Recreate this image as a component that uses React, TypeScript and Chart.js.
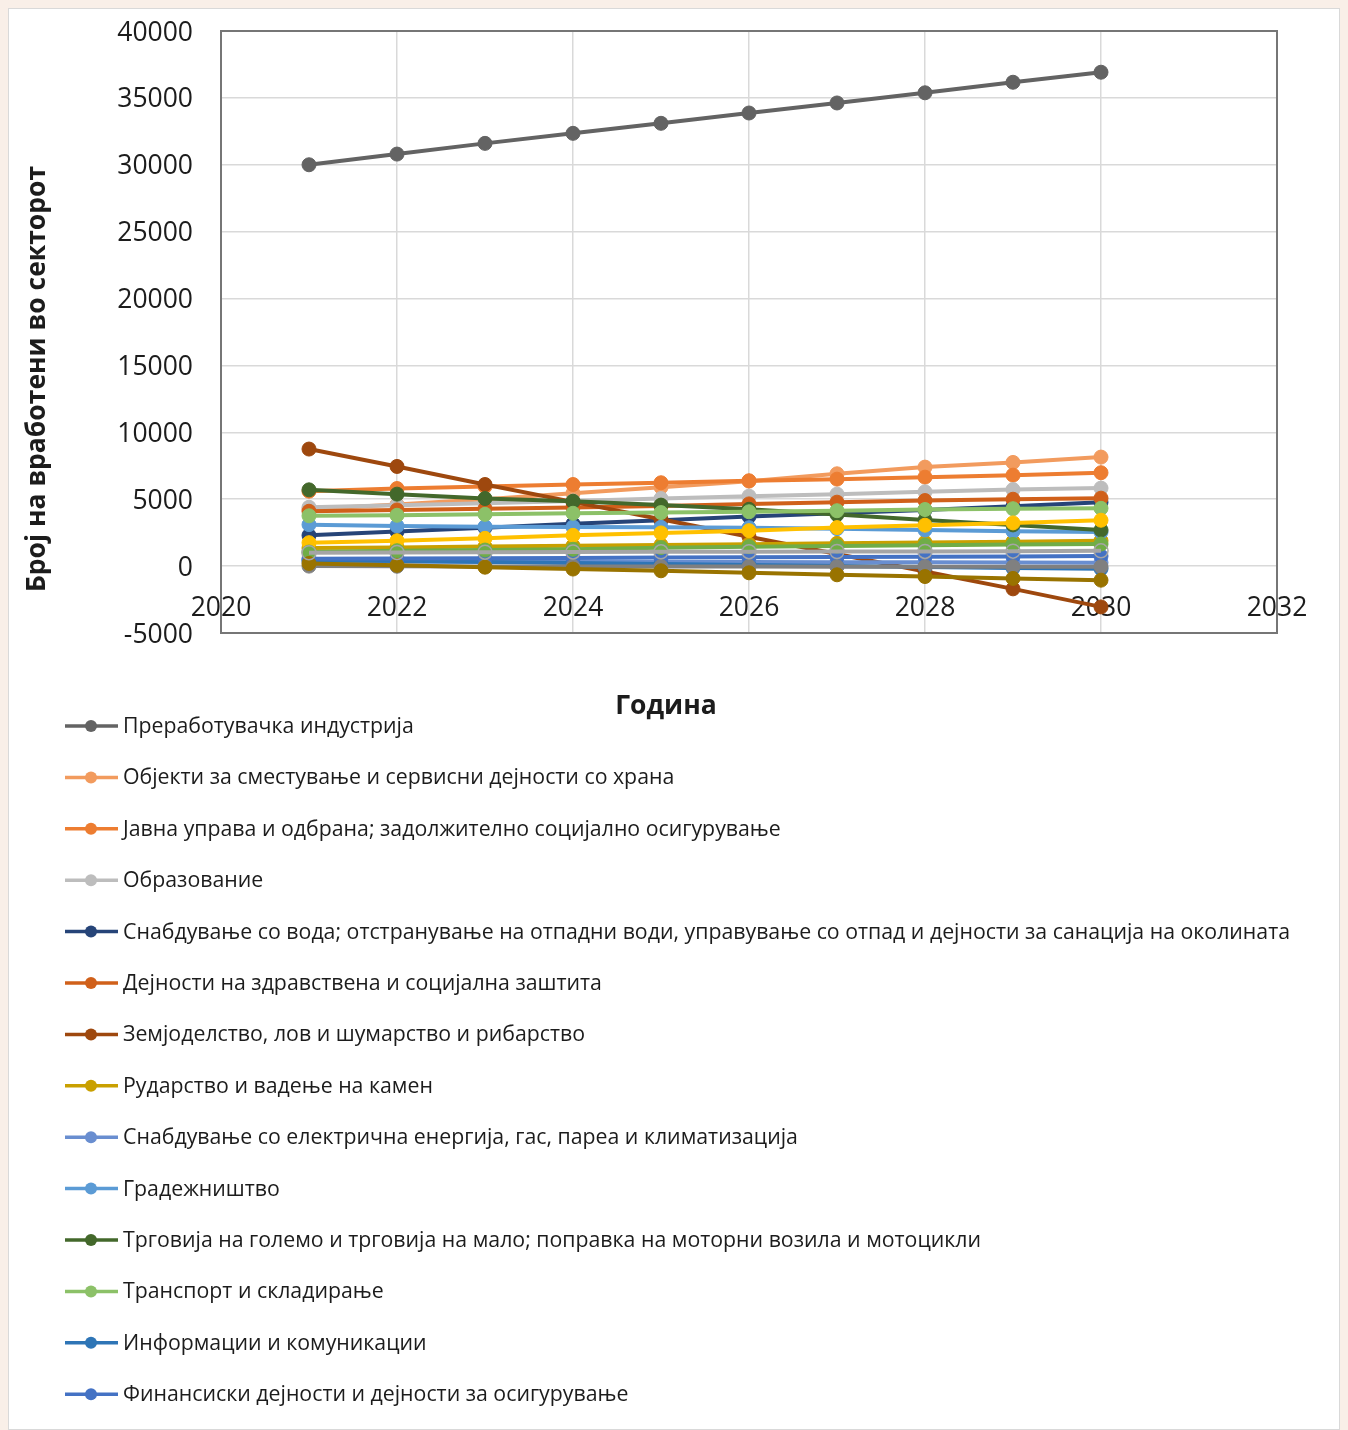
import React, { useEffect, useRef } from "react";
import { Chart, registerables } from "chart.js";

Chart.register(...registerables);

// ---------- data ----------
const years = [2021, 2022, 2023, 2024, 2025, 2026, 2027, 2028, 2029, 2030];

const seriesLabels = [
  "Преработувачка индустрија",
  "Објекти за сместување и сервисни дејности со храна",
  "Јавна управа и одбрана; задолжително социјално осигурување",
  "Образование",
  "Снабдување со вода; отстранување на отпадни води, управување со отпад и дејности за санација на околината",
  "Дејности на здравствена и социјална заштита",
  "Земјоделство, лов и шумарство и рибарство",
  "Рударство и вадење на камен",
  "Снабдување со електрична енергија, гас, пареа и климатизација",
  "Градежништво",
  "Трговија на големо и трговија на мало; поправка на моторни возила и мотоцикли",
  "Транспорт и складирање",
  "Информации и комуникации",
  "Финансиски дејности и дејности за осигурување",
  "Дејности во врска со недвижен имот",
  "Стручни, научни и технички дејности",
  "Административни и помошни услужни дејности",
  "Уметност, забава и рекреација",
  "Други услужни дејности",
];

const manufacturing = [30000, 30800, 31600, 32350, 33100, 33870, 34620, 35380, 36170, 36920];
const accommodation = [4250, 4600, 5000, 5450, 5900, 6350, 6900, 7400, 7750, 8150];
const publicAdmin = [5600, 5800, 5950, 6100, 6230, 6380, 6500, 6650, 6800, 6980];
const education = [4400, 4550, 4700, 4870, 5050, 5230, 5380, 5550, 5720, 5830];
const waterSupply = [2300, 2580, 2870, 3160, 3430, 3700, 3960, 4200, 4470, 4770];
const health = [4100, 4200, 4280, 4380, 4500, 4650, 4780, 4900, 5000, 5080];
const agriculture = [8750, 7450, 6100, 4800, 3500, 2200, 900, -400, -1700, -3050];
const mining = [1350, 1400, 1460, 1520, 1580, 1640, 1700, 1770, 1830, 1900];
const electricity = [350, 340, 330, 320, 310, 300, 290, 280, 270, 260];
const construction = [3100, 3000, 2950, 2920, 2900, 2870, 2800, 2700, 2600, 2550];
const trade = [5700, 5380, 5050, 4850, 4560, 4250, 3850, 3450, 3080, 2700];
const transport = [3760, 3800, 3870, 3950, 4000, 4060, 4140, 4230, 4290, 4320];
const information = [450, 380, 300, 230, 150, 80, 0, -70, -140, -200];
const finance = [550, 570, 590, 610, 640, 660, 680, 700, 720, 750];
const realEstate = [1750, 1900, 2080, 2300, 2480, 2650, 2880, 3060, 3230, 3430];
const professional = [1050, 1150, 1200, 1260, 1380, 1450, 1500, 1560, 1620, 1650];
const administrative = [0, -10, -20, -20, -30, -30, -40, -40, -50, -50];
const arts = [200, 60, -80, -220, -350, -500, -650, -780, -920, -1050];
const otherServices = [1000, 1020, 1040, 1060, 1070, 1080, 1090, 1100, 1120, 1140];

const seriesValues = [
  manufacturing, accommodation, publicAdmin, education, waterSupply, health,
  agriculture, mining, electricity, construction, trade, transport,
  information, finance, realEstate, professional, administrative, arts, otherServices,
];

const xTicks = [2020, 2022, 2024, 2026, 2028, 2030, 2032];
const yTicks = [-5000, 0, 5000, 10000, 15000, 20000, 25000, 30000, 35000, 40000];

const xTitle = "Година";
const yTitle = "Број на вработени во секторот";

// ---------- styles ----------
const seriesColors = [
  "#636363", "#F29B5E", "#ED7D31", "#BDBDBD", "#264478", "#D0601A",
  "#9E480E", "#C9A000", "#698ED0", "#5B9BD5", "#43682B", "#8CC168",
  "#2E75B6", "#4472C4", "#FFC000", "#70AD47", "#808080", "#997300", "#A5A5A5",
];
const hollowSeries = 18;

const FONT = "'Open Sans', 'Noto Sans', sans-serif";
const TEXT = "#1c1c1c";

const decorPlugin = {
  id: "decor",
  beforeDraw(chart: any) {
    const { ctx, width, height } = chart;
    ctx.save();
    ctx.fillStyle = "#ffffff";
    ctx.fillRect(0, 0, width, height);
    ctx.strokeStyle = "#d9d9d9";
    ctx.lineWidth = 1;
    ctx.strokeRect(0.5, 0.5, width - 1, height - 1);
    ctx.restore();
  },
  afterDatasetsDraw(chart: any) {
    const { ctx, chartArea } = chart;
    ctx.save();
    ctx.strokeStyle = "#767676";
    ctx.lineWidth = 2;
    ctx.strokeRect(chartArea.left, chartArea.top, chartArea.right - chartArea.left, chartArea.bottom - chartArea.top);
    ctx.restore();
  },
  afterDraw(chart: any) {
    const { ctx } = chart;
    ctx.save();
    // axis titles
    ctx.fillStyle = TEXT;
    ctx.font = `bold 26.5px ${FONT}`;
    ctx.textAlign = "center";
    ctx.textBaseline = "middle";
    ctx.fillText(xTitle, 658, 698);
    ctx.save();
    ctx.translate(29, 371);
    ctx.rotate(-Math.PI / 2);
    ctx.fillText(yTitle, 0, 0);
    ctx.restore();

    // legend
    const top = 718;
    const gap = 51.4;
    ctx.font = `21.3px ${FONT}`;
    ctx.textAlign = "left";
    chart.data.datasets.forEach((ds: any, i: number) => {
      const y = top + i * gap;
      if (y > chart.height + 20) return;
      ctx.strokeStyle = ds.borderColor;
      ctx.lineWidth = 3.5;
      ctx.beginPath();
      ctx.moveTo(57, y);
      ctx.lineTo(110, y);
      ctx.stroke();
      ctx.beginPath();
      ctx.arc(83, y, 6, 0, Math.PI * 2);
      if (i === hollowSeries) {
        ctx.fillStyle = "#ffffff";
        ctx.fill();
        ctx.lineWidth = 1.5;
        ctx.stroke();
      } else {
        ctx.fillStyle = ds.borderColor;
        ctx.fill();
      }
      ctx.fillStyle = TEXT;
      ctx.fillText(ds.label, 115, y + 1);
    });
    ctx.restore();
  },
};

export default function App() {
  const canvasRef = useRef<HTMLCanvasElement | null>(null);

  useEffect(() => {
    document.body.style.background = "#f9efe8";
    const canvas = canvasRef.current;
    if (!canvas) return;
    const datasets = seriesValues.map((vals, i) => ({
      label: seriesLabels[i],
      data: years.map((x, j) => ({ x, y: vals[j] })),
      borderColor: seriesColors[i],
      backgroundColor: seriesColors[i],
      pointBackgroundColor: i === hollowSeries ? "rgba(255,255,255,0)" : seriesColors[i],
      pointBorderColor: seriesColors[i],
      pointBorderWidth: i === hollowSeries ? 1.5 : 1,
      pointRadius: 7,
      borderWidth: 4,
      tension: 0,
      order: -i,
    }));

    const chart = new Chart(canvas, {
      type: "line",
      data: { datasets },
      options: {
        animation: false,
        responsive: false,
        devicePixelRatio: 1,
        layout: { padding: { top: 23, right: 63, bottom: 797, left: 0 } },
        plugins: { legend: { display: false }, tooltip: { enabled: false } },
        scales: {
          x: {
            type: "linear",
            position: { y: 0 } as any,
            min: 2020,
            max: 2032,
            afterFit: (s: any) => { s.height = 0; s.paddingLeft = 0; s.paddingRight = 0; },
            afterBuildTicks: (s: any) => { s.ticks = xTicks.map((v) => ({ value: v })); },
            ticks: {
              callback: (v: any) => String(v),
              font: { family: FONT, size: 26.5 },
              color: TEXT,
              padding: 26,
              maxRotation: 0,
            },
            grid: { color: "#d9d9d9", lineWidth: 1.5, drawTicks: false },
            border: { display: false },
          },
          y: {
            type: "linear",
            position: "left",
            min: -5000,
            max: 40000,
            afterFit: (s: any) => { s.width = 213; s.paddingTop = 0; s.paddingBottom = 0; },
            afterBuildTicks: (s: any) => { s.ticks = yTicks.map((v) => ({ value: v })); },
            ticks: {
              callback: (v: any) => String(v),
              font: { family: FONT, size: 26.5 },
              color: TEXT,
              padding: 28,
              labelOffset: 2,
            },
            grid: { color: "#d9d9d9", lineWidth: 1.5, drawTicks: false },
            border: { display: false },
          },
        },
      },
      plugins: [decorPlugin],
    });
    return () => chart.destroy();
  }, []);

  return (
    <div style={{ width: 1332, height: 1422 }}>
      <canvas ref={canvasRef} width={1332} height={1422} style={{ display: "block" }} />
    </div>
  );
}
